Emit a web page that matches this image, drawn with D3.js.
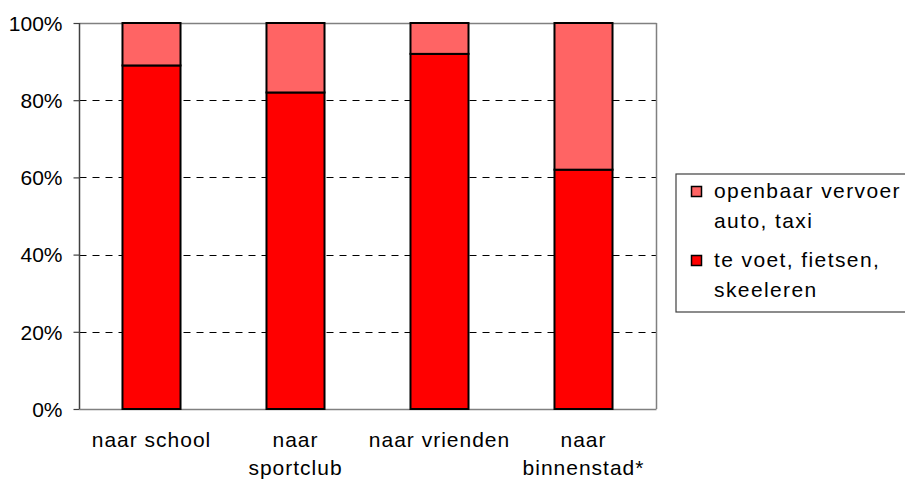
<!DOCTYPE html>
<html><head><meta charset="utf-8">
<script src="https://cdn.jsdelivr.net/npm/d3@7"></script>
<style>body{margin:0;background:#fff}svg{display:block}text{font-family:"Liberation Sans",Arial,sans-serif;fill:#000}</style>
</head><body>
<svg id="c" width="905" height="480"></svg>
<script>
const categories = [["naar school"],["naar","sportclub"],["naar vrienden"],["naar","binnenstad*"]];
const catKeys = ["school","sportclub","vrienden","binnenstad"];
const actief = [89, 82, 92, 62];          // te voet, fietsen, skeeleren
const vervoer = [11, 18, 8, 38];          // openbaar vervoer auto, taxi
const yTicks = [0, 20, 40, 60, 80, 100];
const seriesNames = [["openbaar vervoer","auto, taxi"],["te voet, fietsen,","skeeleren"]];
const colors = ["#FF6464", "#FF0000"];

const svg = d3.select("#c");
const L = 79.5, R = 656.5, T = 23, B = 409;
const x = d3.scaleBand().domain(catKeys).range([L, R - 1]).paddingInner(0.597).paddingOuter(0.2985);
const y = d3.scaleLinear().domain([0, 100]).range([B, T]);

// gridlines
svg.append("g").selectAll("line").data(yTicks.filter(t => t > 0 && t < 100)).join("line")
  .attr("x1", L).attr("x2", R).attr("y1", d => Math.round(y(d)) + 0.5).attr("y2", d => Math.round(y(d)) + 0.5)
  .attr("stroke", "#000").attr("stroke-width", 1).attr("stroke-dasharray", "7,6");

// frame
svg.append("line").attr("x1", L).attr("x2", R).attr("y1", T + 0.5).attr("y2", T + 0.5).attr("stroke", "#808080").attr("stroke-width", 1.5);
svg.append("line").attr("x1", R).attr("x2", R).attr("y1", T).attr("y2", B).attr("stroke", "#808080").attr("stroke-width", 1.5);
svg.append("line").attr("x1", L).attr("x2", R).attr("y1", B + 0.5).attr("y2", B + 0.5).attr("stroke", "#808080").attr("stroke-width", 1.5);

// stacked data
const stackData = catKeys.map((k, i) => ({key: k, actief: actief[i], vervoer: vervoer[i]}));
const stack = d3.stack().keys(["actief", "vervoer"])(stackData);
const stackColors = {actief: colors[1], vervoer: colors[0]};
svg.append("g").selectAll("g").data(stack).join("g")
  .attr("fill", d => stackColors[d.key])
  .selectAll("rect").data(d => d).join("rect")
  .attr("x", d => x(d.data.key)).attr("width", x.bandwidth())
  .attr("y", d => y(d[1])).attr("height", d => y(d[0]) - y(d[1]))
  .attr("stroke", "#000").attr("stroke-width", 2);

// y axis
const yAxis = svg.append("g").attr("transform", `translate(${L},0)`)
  .call(d3.axisLeft(y).tickValues(yTicks).tickFormat(d => d + "%").tickSize(6).tickPadding(11));
yAxis.select(".domain").attr("stroke", "#404040").attr("stroke-width", 1.5).attr("d", `M0,${T}V${B}`);
yAxis.selectAll(".tick line").attr("stroke", "#404040").attr("stroke-width", 1.2);
yAxis.selectAll(".tick text").attr("font-size", 21).attr("font-family", '"Liberation Sans",Arial,sans-serif').attr("dy", "0.35em");

// x labels
const xl = svg.append("g");
catKeys.forEach((k, i) => {
  const t = xl.append("text").attr("text-anchor", "middle").attr("font-size", 21).attr("letter-spacing", "1px")
    .attr("x", x(k) + x.bandwidth() / 2).attr("y", 447);
  categories[i].forEach((line, j) => t.append("tspan").attr("x", x(k) + x.bandwidth() / 2).attr("y", 447 + j * 28).text(line));
});

// legend
const lg = svg.append("g");
lg.append("rect").attr("x", 676).attr("y", 174).attr("width", 240).attr("height", 138)
  .attr("fill", "#fff").attr("stroke", "#404040").attr("stroke-width", 1.2);
const legY = [198, 267];
seriesNames.forEach((lines, i) => {
  lg.append("rect").attr("x", 691.5).attr("y", legY[i] - 11.5).attr("width", 10).attr("height", 10)
    .attr("fill", colors[i]).attr("stroke", "#000").attr("stroke-width", 1.5);
  const t = lg.append("text").attr("font-size", 21).attr("letter-spacing", "1.4px");
  lines.forEach((line, j) => t.append("tspan").attr("x", 714).attr("y", legY[i] + j * 30).text(line));
});
</script>
</body></html>
